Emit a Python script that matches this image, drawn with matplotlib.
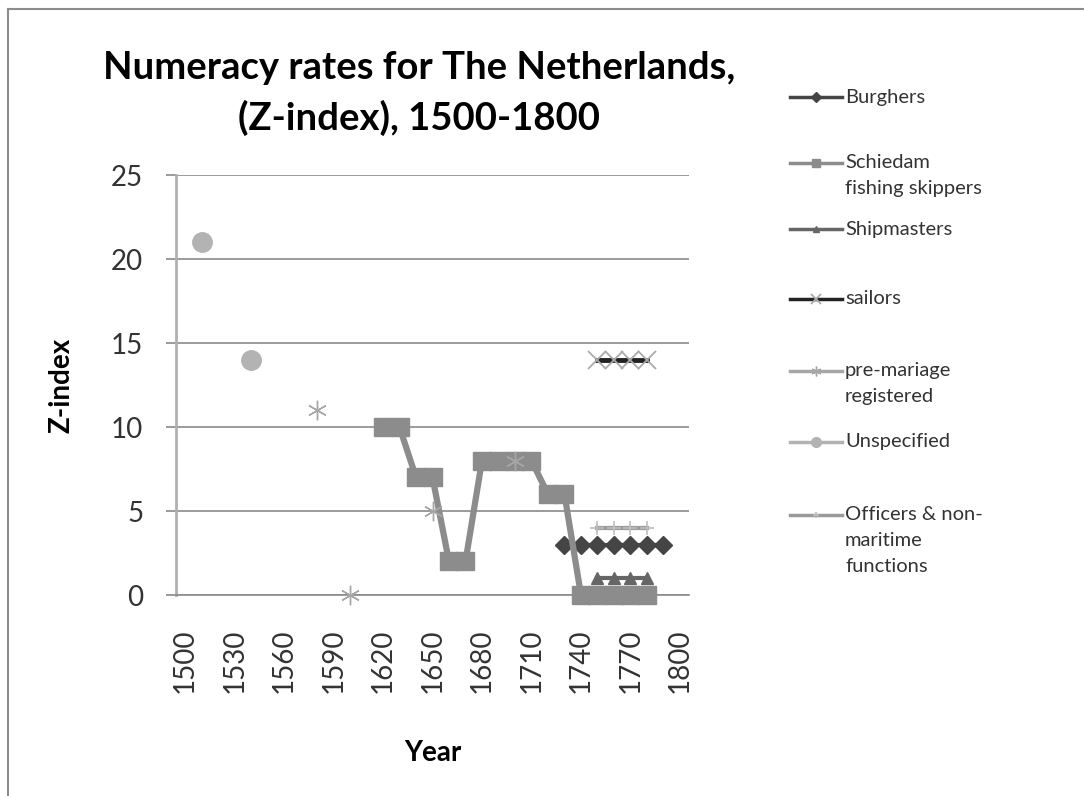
import matplotlib
matplotlib.use('Agg')
import matplotlib.pyplot as plt
from matplotlib.lines import Line2D

plt.rcParams['font.family'] = ['Lato', 'DejaVu Sans']

# values (year, Z-index)
burgher_years = [1730, 1740, 1750, 1760, 1770, 1780, 1790]
burgher_z = [3, 3, 3, 3, 3, 3, 3]
schiedam_years = [1620, 1630, 1640, 1650, 1660, 1670, 1680, 1690, 1700,
                  1710, 1720, 1730, 1740, 1750, 1760, 1770, 1780]
schiedam_z = [10, 10, 7, 7, 2, 2, 8, 8, 8, 8, 6, 6, 0, 0, 0, 0, 0]
shipmaster_years = [1750, 1760, 1770, 1780]
shipmaster_z = [1, 1, 1, 1]
sailor_years = [1750, 1760, 1770, 1780]
sailor_z = [14, 14, 14, 14]
premar_years = [1580, 1600, 1650, 1700]
premar_z = [11, 0, 5, 8]
unspec_years = [1510, 1540]
unspec_z = [21, 14]
officer_years = [1750, 1760, 1770, 1780]
officer_z = [4, 4, 4, 4]

labels = ['Burghers', 'Schiedam\nfishing skippers', 'Shipmasters', 'sailors',
          'pre-mariage\nregistered', 'Unspecified', 'Officers & non-\nmaritime\nfunctions']
xticks = [1500, 1530, 1560, 1590, 1620, 1650, 1680, 1710, 1740, 1770, 1800]
yticks = [0, 5, 10, 15, 20, 25]

W, H = 1084, 796
fig = plt.figure(figsize=(W / 100, H / 100), dpi=100)
ax = fig.add_axes([176 / W, 1 - 595 / H, (689 - 176) / W, (595 - 175) / H])

grid_c = '#8a8a8a'
series = [
    # years, values, line colour, marker, size, face, edge, lw, mew, linestyle
    (burgher_years, burgher_z, '#454545', 'D', 9.5, '#454545', '#454545', 3, 1, '-'),
    (schiedam_years, schiedam_z, '#8c8c8c', 's', 12.5, '#8c8c8c', '#8c8c8c', 4.5, 1, '-'),
    (shipmaster_years, shipmaster_z, '#666666', '^', 9, '#666666', '#666666', 3, 1, '-'),
    (sailor_years, sailor_z, '#222222', 'x', 13, '#aaaaaa', '#aaaaaa', 3.5, 1.3, '-'),
    (premar_years, premar_z, '#a6a6a6', (6, 2, 0), 14, '#a6a6a6', '#a6a6a6', 2, 1, 'none'),
    (unspec_years, unspec_z, '#b3b3b3', 'o', 14, '#b3b3b3', '#b3b3b3', 2, 1, 'none'),
    (officer_years, officer_z, '#9a9a9a', '+', 10, '#bdbdbd', '#bdbdbd', 3, 1.2, '-'),
]
for i, (xs, ys, c, m, ms, mfc, mec, lw, mew, ls) in enumerate(series):
    ax.plot(xs, ys, color=c, lw=lw, ls=ls, marker=m, ms=ms, mfc=mfc, mec=mec,
            mew=mew, zorder=3 + i, clip_on=False)

ax.set_xlim(1494.5, 1805.5)
ax.set_ylim(0, 25)
ax.set_xticks(xticks)
ax.set_xticklabels([str(t) for t in xticks], rotation=90, fontsize=20, color='#333333')
ax.set_yticks(yticks)
ax.set_yticklabels([str(t) for t in yticks], fontsize=20, color='#333333')
ax.tick_params(axis='x', length=0, pad=24)
ax.tick_params(axis='y', length=7.5, width=1.2, color=grid_c, pad=16)
ax.grid(axis='y', color=grid_c, lw=1.2)
ax.set_axisbelow(True)
for s in ['top', 'right']:
    ax.spines[s].set_visible(False)
ax.spines['left'].set_color('#b0b0b0')
ax.spines['left'].set_linewidth(2)
ax.spines['bottom'].set_color(grid_c)
ax.spines['bottom'].set_linewidth(1.2)

ax.set_xlabel('Year', fontsize=20, fontweight='bold')
ax.xaxis.set_label_coords(0.5, -0.345)
ax.set_ylabel('Z-index', fontsize=20, fontweight='bold')
ax.yaxis.set_label_coords(-0.198, 0.5)

fig.text(419 / W, 1 - 68 / H, 'Numeracy rates for The Netherlands,', fontsize=27.5,
         fontweight='bold', ha='center', va='center')
fig.text(419 / W, 1 - 118 / H, '(Z-index), 1500-1800', fontsize=27.5,
         fontweight='bold', ha='center', va='center')

# legend drawn by hand so the uneven Excel spacing is kept
leg_y = [97, 163, 229, 299, 371, 442, 515]
for (xs, ys, c, m, ms, mfc, mec, lw, mew, ls), lab, y in zip(series, labels, leg_y):
    yf = 1 - y / H
    fig.add_artist(Line2D([790 / W, 816 / W, 842 / W], [yf, yf, yf], color=c, lw=2.5,
                          marker=m, ms=ms * 0.5, mfc=mfc, mec=mec, mew=mew,
                          markevery=[1]))
    for k, line in enumerate(lab.split('\n')):
        fig.text(845 / W, 1 - (y + 25.5 * k) / H, line, fontsize=14.5, color='#333333',
                 ha='left', va='center')

# chart border (only top and left fall inside the picture)
fig.add_artist(Line2D([8 / W, 1], [1 - 9 / H, 1 - 9 / H], color='#8c8c8c', lw=1.5))
fig.add_artist(Line2D([8 / W, 8 / W], [0, 1 - 9 / H], color='#8c8c8c', lw=1.5))

fig.savefig('out.png', dpi=100)
